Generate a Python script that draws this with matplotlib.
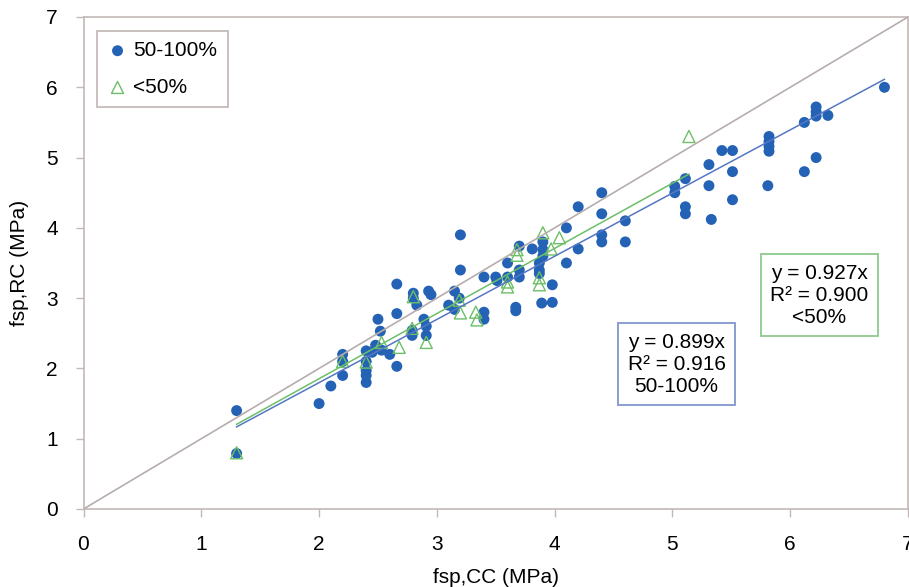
import matplotlib
matplotlib.use("Agg")
import matplotlib.pyplot as plt
import numpy as np

plt.rcParams['font.family'] = ['Liberation Sans', 'DejaVu Sans']

# 50-100% series
blue_x = [1.3, 1.3, 2.0, 2.1, 2.2, 2.2, 2.2, 2.4, 2.4, 2.4, 2.4, 2.4, 2.45, 2.48,
          2.5, 2.52, 2.53, 2.6, 2.66, 2.66, 2.66, 2.8, 2.8, 2.83, 2.93, 2.95, 2.89,
          2.91, 2.91, 2.79, 2.79, 3.15, 3.19, 3.1, 3.15, 3.2, 3.2, 3.4, 3.5, 3.51,
          3.4, 3.4, 3.6, 3.6, 3.67, 3.67, 3.7, 3.7, 3.7, 3.81, 3.87, 3.87, 3.87,
          3.9, 3.9, 3.9, 3.89, 3.98, 3.98, 4.1, 4.2, 4.1, 4.2, 4.4, 4.4, 4.4, 4.4,
          4.6, 4.6, 5.02, 5.02, 5.11, 5.11, 5.11, 5.31, 5.31, 5.33, 5.42, 5.51, 5.51,
          5.51, 5.81, 5.82, 5.82, 5.82, 5.82, 6.12, 6.12, 6.22, 6.22, 6.22, 6.22,
          6.32, 6.8]
blue_y = [1.4, 0.79, 1.5, 1.75, 2.2, 2.1, 1.9, 2.25, 2.1, 1.97, 1.9, 1.8, 2.23, 2.33,
          2.7, 2.53, 2.26, 2.2, 2.03, 2.78, 3.2, 3.07, 3.0, 2.9, 3.1, 3.05, 2.7,
          2.6, 2.47, 2.54, 2.47, 3.1, 3.0, 2.9, 2.84, 3.9, 3.4, 3.3, 3.3, 3.25,
          2.8, 2.7, 3.5, 3.3, 2.87, 2.82, 3.74, 3.4, 3.3, 3.7, 3.5, 3.4, 3.35,
          3.8, 3.69, 3.6, 2.93, 3.19, 2.94, 4.0, 3.7, 3.5, 4.3, 4.5, 4.2, 3.9, 3.8,
          4.1, 3.8, 4.59, 4.5, 4.7, 4.3, 4.2, 4.9, 4.6, 4.12, 5.1, 5.1, 4.8,
          4.4, 4.6, 5.3, 5.23, 5.16, 5.09, 5.5, 4.8, 5.0, 5.72, 5.65, 5.59,
          5.6, 6.0]

# <50% series
green_x = [1.3, 2.2, 2.4, 2.53, 2.68, 2.79, 2.8, 2.91, 3.19, 3.2, 3.33, 3.34, 3.6,
           3.6, 3.68, 3.68, 3.87, 3.87, 3.9, 4.04, 3.97, 5.14]
green_y = [0.8, 2.1, 2.09, 2.37, 2.3, 2.57, 3.02, 2.37, 2.97, 2.79, 2.8, 2.69, 3.23,
           3.16, 3.69, 3.61, 3.29, 3.19, 3.93, 3.86, 3.7, 5.3]

slope_blue = 0.899
slope_green = 0.927
r2_blue = 0.916
r2_green = 0.900
labels = ["50-100%", "<50%"]

blue_c = "#2462b5"
blue_line = "#5577c4"
green_c = "#6cbf68"
gray_c = "#b8adad"
spine_c = "#c2b8b8"
FS = 15

fig = plt.figure(figsize=(9.09, 5.87), dpi=100)
ax = fig.add_axes([83.5/909, 78/587, 824.5/909, 492/587])

ax.scatter(blue_x, blue_y, s=62, color=blue_c, edgecolors='none', zorder=3, label=labels[0])
ax.scatter(green_x, green_y, s=75, marker='^', facecolors='none', edgecolors=green_c,
           linewidths=1.0, zorder=4, label=labels[1])

ax.plot([0, 7], [0, 7], color=gray_c, lw=1.2, zorder=5)
bx = np.array([min(blue_x), max(blue_x)])
ax.plot(bx, slope_blue * bx, color=blue_line, lw=1.1, zorder=5)
gx = np.array([min(green_x), max(green_x)])
ax.plot(gx, slope_green * gx, color=green_c, lw=1.1, zorder=5)

ax.set_xlim(0, 7)
ax.set_ylim(0, 7)
ax.set_xticks(range(8))
ax.set_yticks(range(8))
ax.tick_params(labelsize=FS, length=6, width=1.0, color=spine_c, pad=12.5)
for s in ax.spines.values():
    s.set_color(spine_c)
    s.set_linewidth(1.2)
ax.set_xlabel("fsp,CC (MPa)", fontsize=FS, labelpad=10)
ax.set_ylabel("fsp,RC (MPa)", fontsize=FS, labelpad=12)

leg = ax.legend(loc='upper left', bbox_to_anchor=(0.016, 0.972), fontsize=FS,
                frameon=True, fancybox=False, borderpad=0.5, labelspacing=0.85,
                handletextpad=0.25, handlelength=1.0, scatterpoints=1, borderaxespad=0)
leg.get_frame().set_edgecolor("#b8aaaa")
leg.get_frame().set_linewidth(1.3)

ax.text(5.035, 2.06, f"y = {slope_blue}x\nR\u00b2 = {r2_blue:.3f}\n50-100%", ha='center',
        va='center', fontsize=FS, linespacing=1.2, zorder=6,
        bbox=dict(boxstyle='square,pad=0.45', fc='white', ec="#8196d0", lw=1.3))
ax.text(6.245, 3.04, f"y = {slope_green}x\nR\u00b2 = {r2_green:.3f}\n<50%", ha='center',
        va='center', fontsize=FS, linespacing=1.2, zorder=6,
        bbox=dict(boxstyle='square,pad=0.45', fc='white', ec="#8fc98c", lw=1.3))

fig.savefig("out.png", dpi=100)
